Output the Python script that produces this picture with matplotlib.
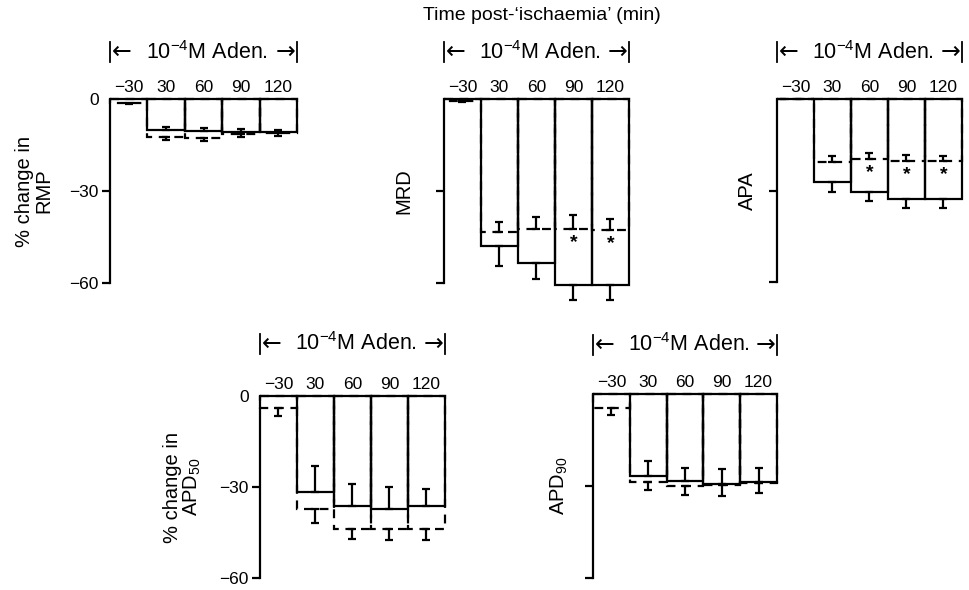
import matplotlib
matplotlib.use("Agg")
import matplotlib.pyplot as plt
import numpy as np

plt.rcParams['font.family'] = ['Liberation Sans', 'DejaVu Sans']
plt.rcParams['mathtext.fontset'] = 'custom'
plt.rcParams['mathtext.rm'] = 'Liberation Sans'
plt.rcParams['mathtext.it'] = 'Liberation Sans'
plt.rcParams['mathtext.bf'] = 'Liberation Sans:bold'

# temps post-ischemie (min)
times = ['\u221230', '30', '60', '90', '120']

# barres pleines (adenosine) et pointillees (controle), en % de variation
rmp_solid = [0, -10.1, -10.3, -10.6, -10.9]
rmp_solid_se = [0, 1.0, 1.0, 0.9, 0.9]
rmp_dash = [-1.2, -12.3, -12.6, -11.4, -11.2]
rmp_dash_se = [0.3, 1.1, 1.2, 1.0, 0.9]

mrd_solid = [0, -47.9, -53.5, -60.6, -60.6]
mrd_solid_se = [0, 6.5, 5.2, 4.9, 4.9]
mrd_dash = [-0.6, -43.5, -42.3, -42.3, -42.6]
mrd_dash_se = [0.5, 3.3, 3.7, 4.5, 3.6]
mrd_stars = [False, False, False, True, True]

apa_solid = [0, -27.2, -30.5, -32.9, -32.7]
apa_solid_se = [0, 3.2, 3.1, 2.9, 2.9]
apa_dash = [0, -20.6, -19.6, -20.3, -20.3]
apa_dash_se = [0, 1.8, 1.9, 1.8, 1.5]
apa_stars = [False, False, True, True, True]

apd50_solid = [0, -31.5, -36.4, -37.3, -36.4]
apd50_solid_se = [0, 8.5, 7.4, 7.3, 5.7]
apd50_dash = [-3.8, -37.3, -43.8, -43.8, -43.8]
apd50_dash_se = [2.8, 4.4, 3.4, 3.8, 3.8]

apd90_solid = [0, -26.6, -28.4, -29.3, -28.8]
apd90_solid_se = [0, 4.6, 4.2, 4.7, 4.6]
apd90_dash = [-4.7, -28.6, -30.0, -29.6, -29.1]
apd90_dash_se = [2.2, 2.6, 3.1, 3.6, 3.2]

bracket_text = '10$^{\u22124}$M Aden.'
LW = 1.6


def draw_panel(ax, solid, solid_se, dash, dash_se, stars, ylabel, label_x,
               show_labels, bracket_y=15.3):
    x = np.arange(len(times))
    solid = np.array(solid)
    dash = np.array(dash)
    ax.bar(x, solid, width=1.0, fill=False, edgecolor='k', linewidth=LW, clip_on=False)
    ax.bar(x, dash, width=1.0, fill=False, edgecolor='k', linewidth=LW,
           linestyle=(0, (4, 3)), clip_on=False)

    # barres d'erreur : dans le sens oppose a l'autre serie
    for i in x:
        up = solid[i] >= dash[i]
        if solid_se[i] > 0:
            err = [[0], [solid_se[i]]] if up else [[solid_se[i]], [0]]
            ax.errorbar([i], [solid[i]], yerr=err, fmt='none', ecolor='k',
                        elinewidth=LW, capsize=3, capthick=LW, clip_on=False)
        if dash_se[i] > 0:
            err = [[dash_se[i]], [0]] if up else [[0], [dash_se[i]]]
            ax.errorbar([i], [dash[i]], yerr=err, fmt='none', ecolor='k',
                        elinewidth=LW, capsize=3, capthick=LW, clip_on=False)
        if stars is not None and stars[i]:
            ax.text(i, dash[i] - 4.6, '*', ha='center', va='center', fontsize=14,
                    fontweight='bold')

    ax.set_xlim(-0.5, 4.5)
    ax.set_ylim(-60, 0)
    for s in ['top', 'right', 'bottom']:
        ax.spines[s].set_visible(False)
    ax.spines['left'].set_linewidth(LW)

    ax.set_xticks(x)
    ax.set_xticklabels(times, fontsize=12.5)
    ax.xaxis.tick_top()
    ax.tick_params(axis='x', length=0, pad=3)

    if show_labels:
        ax.set_yticks([0, -30, -60])
        ax.set_yticklabels(['0', '\u221230', '\u221260'], fontsize=12.5)
        ax.yaxis.get_major_ticks()[0].tick1line.set_visible(False)
    else:
        ax.set_yticks([-30, -60])
        ax.set_yticklabels([])
    ax.tick_params(axis='y', direction='out', length=6, width=LW, pad=2)

    ax.set_ylabel(ylabel, fontsize=14.5, linespacing=1.0)
    ax.yaxis.set_label_coords(label_x, 0.5)

    # crochet "10-4 M Aden."
    ax.text(2.1, bracket_y, bracket_text, ha='center', va='center', fontsize=15.5,
            clip_on=False)
    ax.text(-0.45, bracket_y, '\u2190', ha='left', va='center', fontsize=17,
            family='DejaVu Sans', clip_on=False)
    ax.text(4.45, bracket_y, '\u2192', ha='right', va='center', fontsize=17,
            family='DejaVu Sans', clip_on=False)
    for xb in [-0.5, 4.5]:
        ax.plot([xb, xb], [bracket_y - 3.3, bracket_y + 3.3], color='k', lw=1.3,
                clip_on=False)


fig = plt.figure(figsize=(9.7, 5.9), dpi=100)

ax1 = fig.add_axes([0.1134, 0.5203, 0.1928, 0.3119])
ax2 = fig.add_axes([0.4577, 0.5203, 0.1907, 0.3119])
ax3 = fig.add_axes([0.8010, 0.5220, 0.1907, 0.3102])
ax4 = fig.add_axes([0.2680, 0.0203, 0.1907, 0.3085])
ax5 = fig.add_axes([0.6113, 0.0203, 0.1897, 0.3120])

draw_panel(ax1, rmp_solid, rmp_solid_se, rmp_dash, rmp_dash_se, None,
           '% change in\nRMP', -0.305, True)
draw_panel(ax2, mrd_solid, mrd_solid_se, mrd_dash, mrd_dash_se, mrd_stars,
           'MRD', -0.168, False)
draw_panel(ax3, apa_solid, apa_solid_se, apa_dash, apa_dash_se, apa_stars,
           'APA', -0.108, False)
draw_panel(ax4, apd50_solid, apd50_solid_se, apd50_dash, apd50_dash_se, None,
           '% change in\nAPD$_{50}$', -0.308, True, bracket_y=17.2)
draw_panel(ax5, apd90_solid, apd90_solid_se, apd90_dash, apd90_dash_se, None,
           'APD$_{90}$', -0.125, False, bracket_y=16.0)

fig.text(542 / 970, 1 - 15 / 590, "Time post-\u2018ischaemia\u2019 (min)",
         ha='center', va='center', fontsize=14)

fig.savefig('out.png', dpi=100)
